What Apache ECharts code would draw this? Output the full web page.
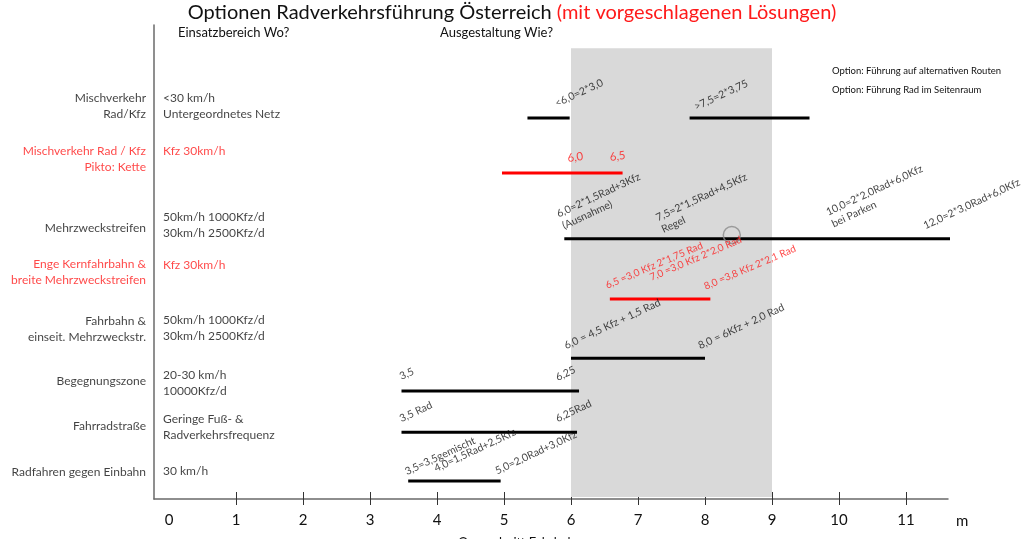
<!DOCTYPE html>
<html><head><meta charset="utf-8">
<script src="https://cdn.jsdelivr.net/npm/echarts@6/dist/echarts.min.js"></script>
<style>html,body{margin:0;padding:0;background:#fff}#c{width:1024px;height:539px}</style>
</head><body><div id="c"></div>
<script>
// ---- data ----
const xTickLabels = [0, 1, 2, 3, 4, 5, 6, 7, 8, 9, 10, 11];
const xUnit = 'm';
const titleMain = 'Optionen Radverkehrsführung Österreich';
const titleRed = '(mit vorgeschlagenen Lösungen)';
const headerWhere = 'Einsatzbereich Wo?';
const headerHow = 'Ausgestaltung Wie?';
const optionNotes = ['Option: Führung auf alternativen Routen', 'Option: Führung Rad im Seitenraum'];
const bottomCaption = 'Querschnitt Fahrbahn';

const rowNames = ['Mischverkehr\nRad/Kfz', 'Mischverkehr Rad / Kfz\nPikto: Kette', 'Mehrzweckstreifen',
  'Enge Kernfahrbahn &\nbreite Mehrzweckstreifen', 'Fahrbahn &\neinseit. Mehrzweckstr.', 'Begegnungszone',
  'Fahrradstraße', 'Radfahren gegen Einbahn'];
const rowUse = ['<30 km/h\nUntergeordnetes Netz', 'Kfz 30km/h', '50km/h 1000Kfz/d\n30km/h 2500Kfz/d', 'Kfz 30km/h',
  '50km/h 1000Kfz/d\n30km/h 2500Kfz/d', '20-30 km/h\n10000Kfz/d', 'Geringe Fuß- &\nRadverkehrsfrequenz', '30 km/h'];
const rowRed = [false, true, false, true, false, false, false, false];
const rowLevel = [1.96, 3.12, 4.51, 5.78, 7.03, 7.72, 8.59, 9.62];
const rowNameLevel = [1.71, 2.83, 4.28, 5.21, 6.41, 7.51, 8.46, 9.43];
const rowUseLevel = [1.71, 2.66, 4.22, 5.06, 6.39, 7.55, 8.48, 9.41];

const barRow = [0, 0, 1, 2, 3, 4, 5, 6, 7];
const barStart = [5.35, 7.77, 4.97, 5.90, 6.58, 6.00, 3.47, 3.47, 3.57];
const barEnd = [5.98, 9.56, 6.77, 11.66, 8.08, 8.00, 6.12, 6.09, 4.95];

const noteText = ['<6,0=2*3,0', '>7,5=2*3,75', '6,0', '6,5',
  '6,0=2*1,5Rad+3Kfz\n(Ausnahme)', '7,5=2*1,5Rad+4,5Kfz\nRegel', '10,0=2*2,0Rad+6,0Kfz\nbei Parken', '12,0=2*3,0Rad+6,0Kfz',
  '6,5 =3,0 Kfz 2*1,75 Rad', '7,0 =3,0 Kfz 2*2,0 Rad', '8,0 =3,8 Kfz 2*2,1 Rad',
  '6,0 = 4,5 Kfz + 1,5 Rad', '8,0 = 6Kfz + 2,0 Rad',
  '3,5', '6,25', '3,5 Rad', '6,25Rad',
  '3,5=3,5gemischt', '4,0=1,5Rad+2,5Kfz', '5,0=2,0Rad+3,0Kfz'];
const noteX = [5.81, 7.89, 5.96, 6.59, 5.92, 7.40, 9.94, 11.31, 6.56, 7.22, 8.03, 5.95, 7.95,
  3.49, 5.82, 3.49, 5.82, 3.57, 4.01, 4.92];
const noteLevel = [1.79, 1.86, 2.95, 2.93, 4.37, 4.45, 4.33, 4.37, 5.63, 5.46, 5.65, 6.90, 6.90,
  7.55, 7.57, 8.44, 8.44, 9.56, 9.49, 9.54];
const noteRed = [false, false, true, true, false, false, false, false, true, true, true, false, false,
  false, false, false, false, false, false, false];

const bandFrom = 6, bandTo = 9;
const bandTopLevel = 0.49, bandBottomLevel = 9.96;
const markerX = 8.4, markerLevel = 4.43;

// ---- chart ----
const FONT = 'Lato';
const RED = '#ff1a1a';
const INK = '#111';
const xMin = -0.224, xMax = 11.627;

function noteStyle(t, red) {
  if (red && t.length < 4) return {fontSize: 11.5, rotate: 8};
  if (red) return {fontSize: 10, rotate: 23};
  return {fontSize: 10.5, rotate: 25};
}

const series = [];
series.push({
  type: 'line', data: [], silent: true,
  markArea: {
    silent: true, itemStyle: {color: '#d9d9d9'},
    data: [[{xAxis: bandFrom, yAxis: bandTopLevel}, {xAxis: bandTo, yAxis: bandBottomLevel}]]
  }
});
barRow.forEach((r, i) => {
  series.push({
    type: 'line', silent: true, symbol: 'none', z: 3,
    lineStyle: {width: 3, color: rowRed[r] ? '#ff0000' : '#000'},
    data: [[barStart[i], rowLevel[r]], [barEnd[i], rowLevel[r]]]
  });
});
series.push({
  type: 'scatter', silent: true, z: 4, symbol: 'circle', symbolSize: 17,
  itemStyle: {color: 'rgba(0,0,0,0)', borderColor: '#8a8a8a', borderWidth: 1.5},
  data: [[markerX, markerLevel]]
});
series.push({
  type: 'scatter', silent: true, z: 5, symbolSize: 0,
  data: noteText.map((t, i) => ({
    value: [noteX[i], noteLevel[i]], name: t,
    label: Object.assign({color: noteRed[i] ? RED : INK}, noteStyle(t, noteRed[i]))
  })),
  label: {show: true, position: 'inside', align: 'left', verticalAlign: 'bottom', fontFamily: FONT, lineHeight: 13,
    formatter: p => p.name}
});
series.push({
  type: 'scatter', silent: true, z: 5, symbolSize: 0,
  data: rowNames.map((t, i) => ({value: [xMin, rowNameLevel[i]], name: t, label: {color: rowRed[i] ? RED : INK}})),
  label: {show: true, position: 'left', distance: 8, align: 'right', fontFamily: FONT, fontSize: 12, lineHeight: 16,
    formatter: p => p.name}
});
series.push({
  type: 'scatter', silent: true, z: 5, symbolSize: 0,
  data: rowUse.map((t, i) => ({value: [xMin, rowUseLevel[i]], name: t, label: {color: rowRed[i] ? RED : INK}})),
  label: {show: true, position: 'right', distance: 9, align: 'left', fontFamily: FONT, fontSize: 12, lineHeight: 16,
    formatter: p => p.name}
});

const chart = echarts.init(document.getElementById('c'), null, {renderer: 'canvas'});
chart.setOption({
  animation: false,
  backgroundColor: '#fff',
  title: {
    text: '{a|' + titleMain + '} {b|' + titleRed + '}',
    left: 'center', top: 3, padding: 0,
    textStyle: {fontWeight: 'normal', rich: {
      a: {fontSize: 20, fontFamily: FONT, fontWeight: 'normal', color: '#111'},
      b: {fontSize: 20, fontFamily: FONT, fontWeight: 'normal', color: RED}}}
  },
  grid: {left: 154, right: 76, top: 25, bottom: 40, containLabel: false, outerBoundsMode: 'none'},
  xAxis: [{
    type: 'value', min: xMin, max: xMax, position: 'bottom',
    axisLine: {onZero: false, lineStyle: {color: '#6a6a6a', width: 1.5}},
    axisTick: {show: true, length: 6, customValues: xTickLabels.slice(1), lineStyle: {color: '#333', width: 1}},
    axisLabel: {customValues: xTickLabels, margin: 14, fontSize: 15, fontFamily: FONT, color: INK},
    splitLine: {show: false},
    name: xUnit, nameLocation: 'end', nameGap: 8,
    nameTextStyle: {fontSize: 15, fontFamily: FONT, color: INK, verticalAlign: 'top', padding: [15, 0, 0, 0]}
  }, {
    type: 'value', min: xMin, max: xMax, position: 'bottom',
    axisLine: {show: false, onZero: false},
    axisTick: {show: true, inside: true, length: 7, customValues: xTickLabels.slice(1), lineStyle: {color: '#333', width: 1}},
    axisLabel: {show: false}, splitLine: {show: false}
  }],
  yAxis: {
    type: 'value', inverse: true, min: 0, max: 10,
    axisLine: {show: true, onZero: false, lineStyle: {color: '#6a6a6a', width: 1.5}},
    axisTick: {show: false}, axisLabel: {show: false}, splitLine: {show: false}
  },
  graphic: [
    {type: 'text', left: 178, top: 26, style: {text: headerWhere, fontSize: 13, fontFamily: FONT, fill: INK}},
    {type: 'text', left: 440, top: 26, style: {text: headerHow, fontSize: 13, fontFamily: FONT, fill: INK}},
    {type: 'text', left: 832, top: 66, style: {text: optionNotes[0], fontSize: 9.5, fontFamily: FONT, fill: INK}},
    {type: 'text', left: 832, top: 85, style: {text: optionNotes[1], fontSize: 9.5, fontFamily: FONT, fill: INK}},
    {type: 'text', left: 458, top: 536, style: {text: bottomCaption, fontSize: 13, fontFamily: FONT, fill: INK}}
  ],
  series: series
});
</script></body></html>
